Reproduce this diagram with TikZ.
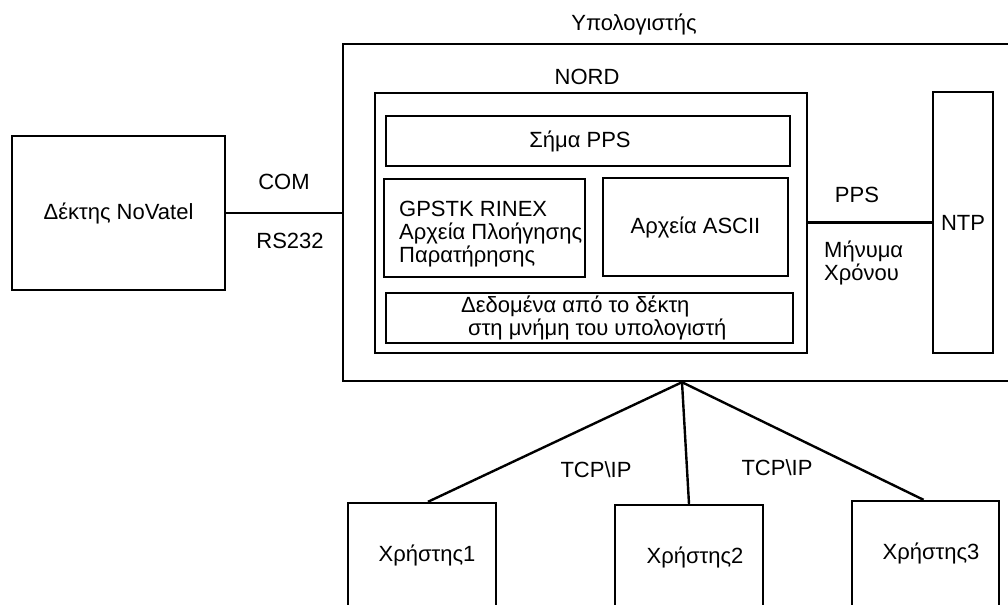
\documentclass[tikz,border=0pt]{standalone}
\usepackage{fontspec}
\setmainfont{Liberation Sans}

\begin{document}
\begin{tikzpicture}[x=.5pt,y=-.5pt,font=\fontsize{11}{11.5}\selectfont,line width=1.2pt,
  box/.style={draw=black,inner sep=0pt},
  txt/.style={inner sep=0pt}]
\clip (0,0) rectangle (1008,605);
\node[box,minimum width=106.5,minimum height=77] (rx) at (118.5,213) {Δέκτης NoVatel};
\node[box,minimum width=339,minimum height=168.5] (pc) at (682,212.5) {};
\node[txt] (pclbl) at (634,24) {Υπολογιστής};
\node[txt] (nordlbl) at (587,77) {NORD};
\node[box,minimum width=216,minimum height=130] (nord) at (591,223) {};
\node[box,minimum width=202,minimum height=25] (sig) at (588,141) {};
\node[txt] (siglbl) at (580,141) {Σήμα PPS};
\node[box,minimum width=100.5,minimum height=49] (gps) at (484.5,228) {};
\node[txt,anchor=west,align=left] (gpslbl) at (398,234) {GPSTK RINEX\\Αρχεία Πλοήγησης\\Παρατήρησης};
\node[box,minimum width=92.5,minimum height=49] (ascii) at (695.5,227) {Αρχεία ASCII};
\node[box,minimum width=203.5,minimum height=25] (data) at (589.5,318) {};
\node[txt,anchor=west,align=left] (datalbl) at (460,318) {Δεδομένα από το δέκτη\\\hspace{3.5pt}στη μνήμη του υπολογιστή};
\node[box,minimum width=30,minimum height=130.5] (ntp) at (963,222.5) {NTP};
\node[txt] (com) at (284,182) {COM};
\node[txt] (rs) at (290,241) {RS232};
\node[txt] (ppslbl) at (857,195) {PPS};
\node[txt,anchor=west,align=left] (msg) at (823,263) {Μήνυμα\\Χρόνου};
\node[box,minimum width=74,minimum height=68.5] (u1) at (422,571.5) {};
\node[box,minimum width=74,minimum height=67.5] (u2) at (689,572.5) {};
\node[box,minimum width=73.5,minimum height=69.5] (u3) at (925.5,570.5) {};
\node[txt] (u1lbl) at (427,555) {Χρήστης1};
\node[txt] (u2lbl) at (695,557) {Χρήστης2};
\node[txt] (u3lbl) at (931,553) {Χρήστης3};
\node[txt] (tcp1) at (596,470) {TCP\textbackslash IP};
\node[txt] (tcp2) at (777,468) {TCP\textbackslash IP};
\coordinate (hub) at (pc.south);
\draw (rx.east) -- (rx.east -| pc.west);
\draw (nord.east |- ntp.west) -- (ntp.west);
\draw ([xshift=3pt]u1.north) -- (hub) -- ([xshift=-1pt]u3.north);
\draw (hub) -- (u2.north);
\end{tikzpicture}
\end{document}
